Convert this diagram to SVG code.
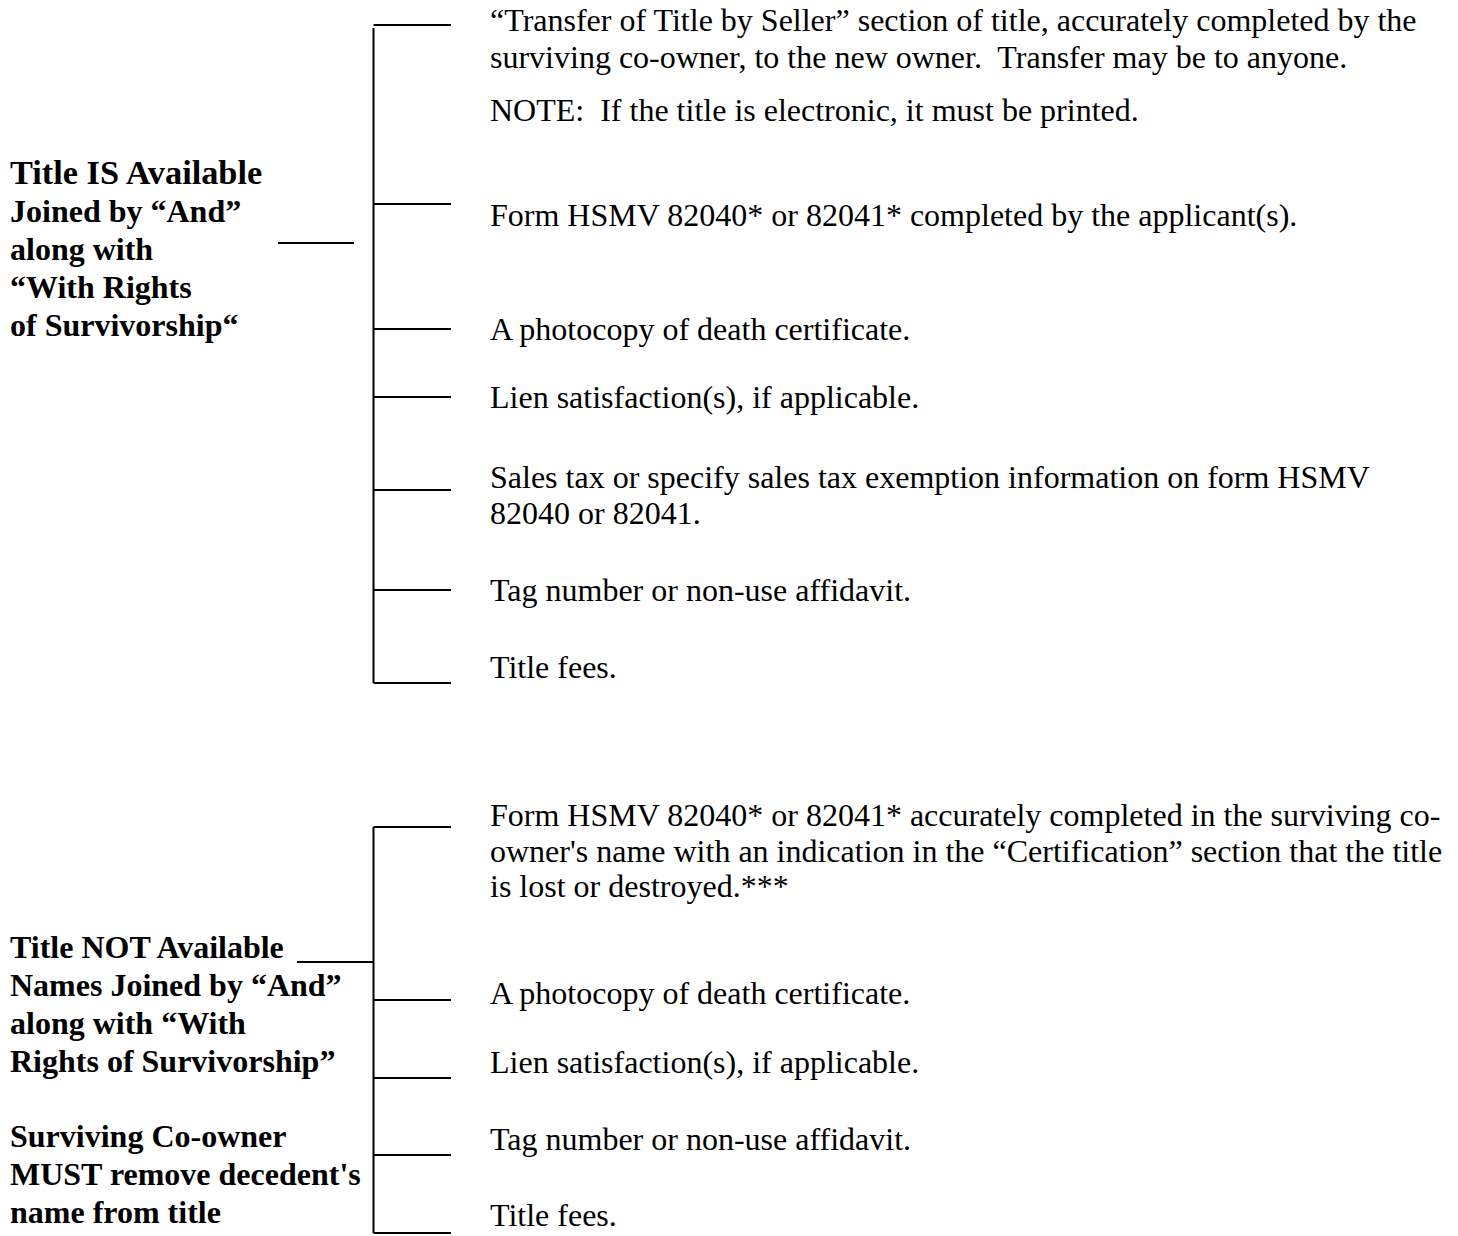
<svg xmlns="http://www.w3.org/2000/svg" width="1458" height="1236" viewBox="0 0 1458 1236">
<style>
.bg{fill:#fff}
.ln{stroke:#000;stroke-width:2;fill:none;stroke-linecap:butt}
.lbl{font-family:"Liberation Serif","Times New Roman",serif;font-weight:bold;font-size:32px;fill:#000}
.big{font-size:34.3px}
.txt{font-family:"Liberation Serif","Times New Roman",serif;font-size:32px;fill:#000}
</style>
<rect class="bg" x="0" y="0" width="1458" height="1236"/>
<g id="connectors">
  <path class="ln" d="M373.5,28 V683 M373.5,25 H451 M373.5,204 H451 M373.5,329 H451 M373.5,397 H451 M373.5,490 H451 M373.5,590 H451 M373.5,683 H451 M278,243 H354"/>
  <path class="ln" d="M373.5,827 V1233 M373.5,827 H451 M373.5,1000 H451 M373.5,1078 H451 M373.5,1155 H451 M373.5,1233 H451 M297,962 H373.5"/>
</g>
<g id="node-title-available">
  <text class="lbl big" x="10" y="184">Title IS Available</text>
  <text class="lbl" x="10" y="222">Joined by “And”</text>
  <text class="lbl" x="10" y="260">along with</text>
  <text class="lbl" x="10" y="298">“With Rights</text>
  <text class="lbl" x="10" y="336">of Survivorship“</text>
</g>
<g id="node-a1">
  <text class="txt" x="490" y="31">“Transfer of Title by Seller” section of title, accurately completed by the</text>
  <text class="txt" x="490" y="68">surviving co-owner, to the new owner.&#160; Transfer may be to anyone.</text>
  <text class="txt" x="490" y="121">NOTE:&#160; If the title is electronic, it must be printed.</text>
</g>
<g id="node-a2"><text class="txt" x="490" y="226">Form HSMV 82040* or 82041* completed by the applicant(s).</text></g>
<g id="node-a3"><text class="txt" x="490" y="340">A photocopy of death certificate.</text></g>
<g id="node-a4"><text class="txt" x="490" y="408">Lien satisfaction(s), if applicable.</text></g>
<g id="node-a5">
  <text class="txt" x="490" y="488">Sales tax or specify sales tax exemption information on form HSMV</text>
  <text class="txt" x="490" y="524">82040 or 82041.</text>
</g>
<g id="node-a6"><text class="txt" x="490" y="601">Tag number or non-use affidavit.</text></g>
<g id="node-a7"><text class="txt" x="490" y="678">Title fees.</text></g>
<g id="node-title-not-available">
  <text class="lbl" x="10" y="958">Title NOT Available</text>
  <text class="lbl" x="10" y="996">Names Joined by “And”</text>
  <text class="lbl" x="10" y="1034">along with “With</text>
  <text class="lbl" x="10" y="1072">Rights of Survivorship”</text>
  <text class="lbl" x="10" y="1147">Surviving Co-owner</text>
  <text class="lbl" x="10" y="1185">MUST remove decedent's</text>
  <text class="lbl" x="10" y="1223">name from title</text>
</g>
<g id="node-b1">
  <text class="txt" x="490" y="826">Form HSMV 82040* or 82041* accurately completed in the surviving co-</text>
  <text class="txt" x="490" y="862">owner's name with an indication in the “Certification” section that the title</text>
  <text class="txt" x="490" y="897">is lost or destroyed.***</text>
</g>
<g id="node-b2"><text class="txt" x="490" y="1004">A photocopy of death certificate.</text></g>
<g id="node-b3"><text class="txt" x="490" y="1073">Lien satisfaction(s), if applicable.</text></g>
<g id="node-b4"><text class="txt" x="490" y="1150">Tag number or non-use affidavit.</text></g>
<g id="node-b5"><text class="txt" x="490" y="1226">Title fees.</text></g>
</svg>
